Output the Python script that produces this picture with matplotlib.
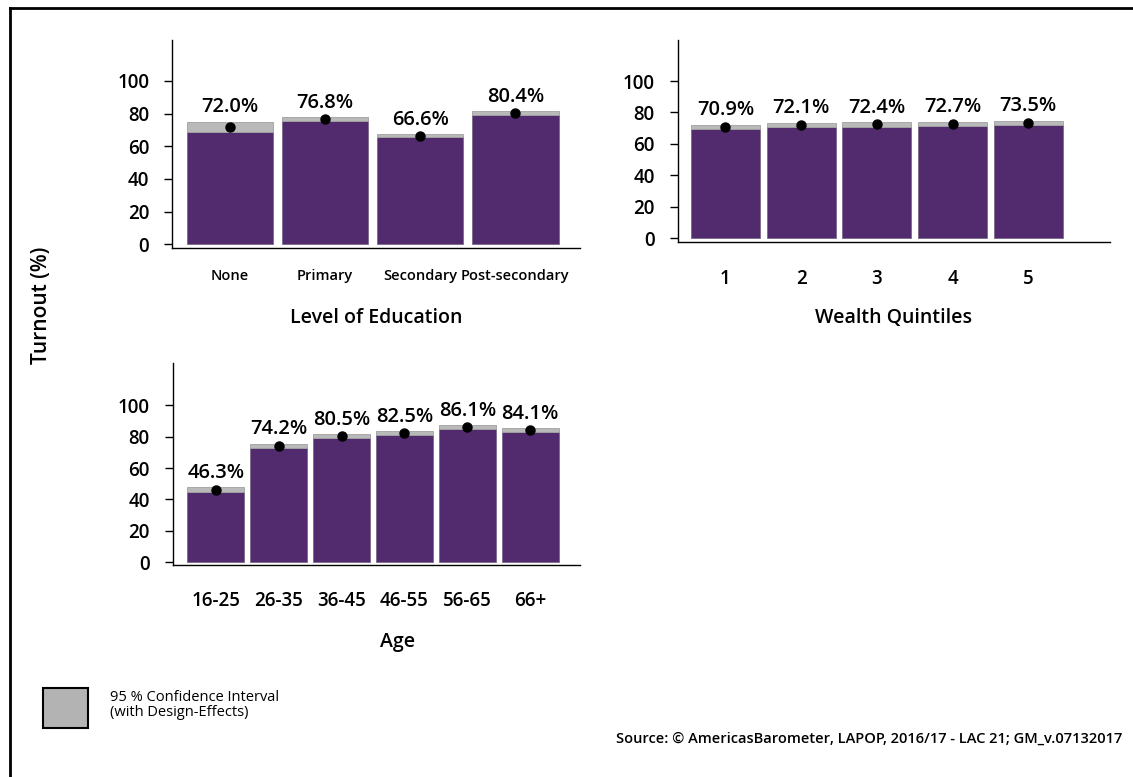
import matplotlib.pyplot as plt
from matplotlib.patches import Rectangle
from matplotlib.lines import Line2D

'''
Turnout by education, wealth and age (LAPOP style bar chart with CI)
'''

plt.rcParams['font.family'] = ['Open Sans', 'DejaVu Sans']

# Data
edu_labels = ["None", "Primary", "Secondary", "Post-secondary"]
edu_mean = [72.0, 76.8, 66.6, 80.4]
edu_lo = [68.9, 75.5, 65.5, 79.2]
edu_hi = [75.1, 78.1, 67.7, 81.6]

wealth_labels = ["1", "2", "3", "4", "5"]
wealth_mean = [70.9, 72.1, 72.4, 72.7, 73.5]
wealth_lo = [69.5, 70.6, 71.0, 71.2, 72.1]
wealth_hi = [72.3, 73.6, 73.8, 74.2, 74.9]

age_labels = ["16-25", "26-35", "36-45", "46-55", "56-65", "66+"]
age_mean = [46.3, 74.2, 80.5, 82.5, 86.1, 84.1]
age_lo = [44.8, 72.9, 79.3, 81.3, 84.9, 82.8]
age_hi = [47.8, 75.5, 81.7, 83.7, 87.3, 85.4]

yticks = [0, 20, 40, 60, 80, 100]

purple = "#522a6e"
grey = "#b9b9b9"

W, H = 1133, 777
fig = plt.figure(figsize=(W / 100, H / 100), dpi=100)


def px_axes(x0, x1, ytop, ybot):
    return fig.add_axes([x0 / W, 1 - ybot / H, (x1 - x0) / W, (ybot - ytop) / H])


def panel(ax, labels, mean, lo, hi, xlim, ylim, xlab, xlab_size, xpad, xlabel_pos):
    x = list(range(len(labels)))
    ax.bar(x, lo, width=0.91, color=purple, edgecolor="#7a6a88", linewidth=0.6)
    ax.bar(x, [h - l for h, l in zip(hi, lo)], bottom=lo, width=0.91,
           color=grey, edgecolor="#a0a0a0", linewidth=0.6)
    ax.plot(x, mean, "o", color="black", markersize=6.5, zorder=5)
    for xi, m, h in zip(x, mean, hi):
        ax.annotate(f"{m:.1f}%", (xi, h), xytext=(0, 3), textcoords="offset points",
                    ha="center", va="bottom", fontsize=14.5, fontweight="semibold")
    ax.set_xlim(*xlim)
    ax.set_ylim(*ylim)
    ax.set_yticks(yticks)
    ax.set_yticklabels([str(t) for t in yticks], fontsize=13.5, fontweight="semibold")
    ax.tick_params(axis="y", length=5.5, width=1, pad=11)
    ax.set_xticks(x)
    ax.set_xticklabels(labels, fontsize=xlab_size, fontweight="semibold")
    ax.tick_params(axis="x", length=0, pad=xpad)
    ax.spines["top"].set_visible(False)
    ax.spines["right"].set_visible(False)
    ax.spines["left"].set_linewidth(1)
    ax.spines["bottom"].set_linewidth(1)
    ax.set_xlabel(xlab, fontsize=14, fontweight="semibold", va="center")
    ax.xaxis.set_label_coords(*xlabel_pos)


ax1 = px_axes(172, 580, 40, 248.3)
panel(ax1, edu_labels, edu_mean, edu_lo, edu_hi, (-0.61, 3.68), (-2.45, 125.1),
      "Level of Education", 10.5, 15, (0.5, -0.337))

ax2 = px_axes(677.7, 1110, 40, 242.3)
panel(ax2, wealth_labels, wealth_mean, wealth_lo, wealth_hi, (-0.63, 5.08), (-2.54, 126.1),
      "Wealth Quintiles", 13.5, 19, (0.5, -0.376))

ax3 = px_axes(172.7, 580, 363, 565)
panel(ax3, age_labels, age_mean, age_lo, age_hi, (-0.685, 5.79), (-1.7, 126.8),
      "Age", 13.5, 19, (0.553, -0.381))

# Common y title
fig.text(41 / W, 1 - 305 / H, "Turnout (%)", rotation=90, ha="center", va="center",
         fontsize=15, fontweight="semibold")

# Legend box for the confidence interval
fig.patches.append(Rectangle((43 / W, 1 - 728 / H), 45 / W, 40 / H, transform=fig.transFigure,
                             facecolor="#b3b3b3", edgecolor="black", linewidth=1.5))
fig.text(110 / W, 1 - 697.5 / H, "95 % Confidence Interval", ha="left", va="center",
         fontsize=10.5)
fig.text(110 / W, 1 - 713 / H, "(with Design-Effects)", ha="left", va="center",
         fontsize=10.5)

# Source
fig.text(1122 / W, 1 - 739 / H,
         "Source: \u00a9 AmericasBarometer, LAPOP, 2016/17 - LAC 21; GM_v.07132017",
         ha="right", va="center", fontsize=10.5, fontweight="semibold")

# Outer frame: top and left lines only
fig.lines.append(Line2D([10 / W, 1], [1 - 8 / H, 1 - 8 / H], transform=fig.transFigure,
                        color="black", linewidth=2))
fig.lines.append(Line2D([10 / W, 10 / W], [0, 1 - 8 / H], transform=fig.transFigure,
                        color="black", linewidth=2))

fig.savefig("out.png", dpi=100)
